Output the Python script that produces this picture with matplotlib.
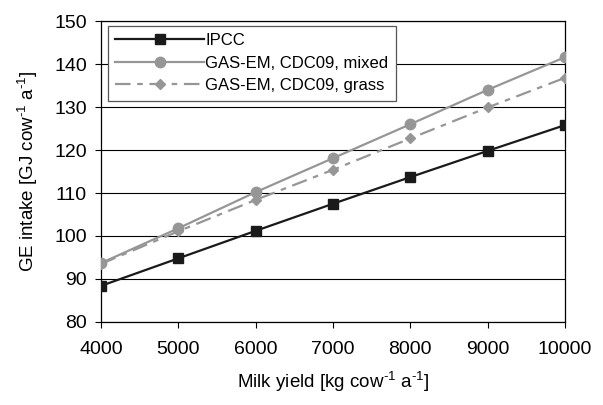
import matplotlib
matplotlib.use("Agg")
import matplotlib.pyplot as plt

plt.rcParams['font.family'] = ['Liberation Sans', 'DejaVu Sans']
plt.rcParams['mathtext.fontset'] = 'custom'
plt.rcParams['mathtext.rm'] = 'Liberation Sans'

# data
milk_yield = [4000, 5000, 6000, 7000, 8000, 9000, 10000]
ipcc = [88.4, 94.8, 101.2, 107.5, 113.7, 119.8, 125.8]
gasem_mixed = [93.7, 101.8, 110.2, 118.1, 126.0, 134.0, 141.6]
gasem_grass = [93.5, 101.1, 108.4, 115.4, 122.7, 129.9, 136.8]

fig = plt.figure(figsize=(6.03, 4.05), dpi=100)
ax = fig.add_axes([0.1675, 0.205, 0.7695, 0.743])

grey = '#969696'
ax.plot(milk_yield, ipcc, color='#1a1a1a', lw=1.6, marker='s', ms=7,
        label='IPCC', zorder=4)
ax.plot(milk_yield, gasem_mixed, color=grey, lw=1.6, marker='o', ms=7.5,
        label='GAS-EM, CDC09, mixed', zorder=3)
ax.plot(milk_yield, gasem_grass, color=grey, lw=1.6, marker='D', ms=5.5,
        dashes=(7, 3, 2.5, 3), label='GAS-EM, CDC09, grass', zorder=3)

ax.set_xlim(4000, 10000)
ax.set_ylim(80, 150)
ax.set_xticks(range(4000, 10001, 1000))
ax.set_yticks(range(80, 151, 10))
ax.yaxis.grid(True, color='black', lw=0.8)
ax.set_axisbelow(True)
ax.tick_params(direction='out', length=4, width=0.8, labelsize=14, colors='black')
ax.tick_params(axis='x', pad=10)
ax.tick_params(axis='y', pad=6)
for s in ax.spines.values():
    s.set_linewidth(0.9)
    s.set_color('black')

ax.set_xlabel(r'Milk yield [kg cow$^{\text{-1}}$ a$^{\text{-1}}$]', fontsize=13.5, labelpad=8)
ax.set_ylabel(r'GE intake [GJ cow$^{\text{-1}}$ a$^{\text{-1}}$]', fontsize=13.5, labelpad=10)

leg = ax.legend(loc='upper left', bbox_to_anchor=(0.015, 0.985), fontsize=12,
                handlelength=5.3, handletextpad=0.1, labelspacing=0.45,
                fancybox=False, framealpha=1, edgecolor='#555555',
                borderpad=0.45, borderaxespad=0)
leg.get_frame().set_linewidth(0.9)

fig.savefig('out.png', dpi=100)
